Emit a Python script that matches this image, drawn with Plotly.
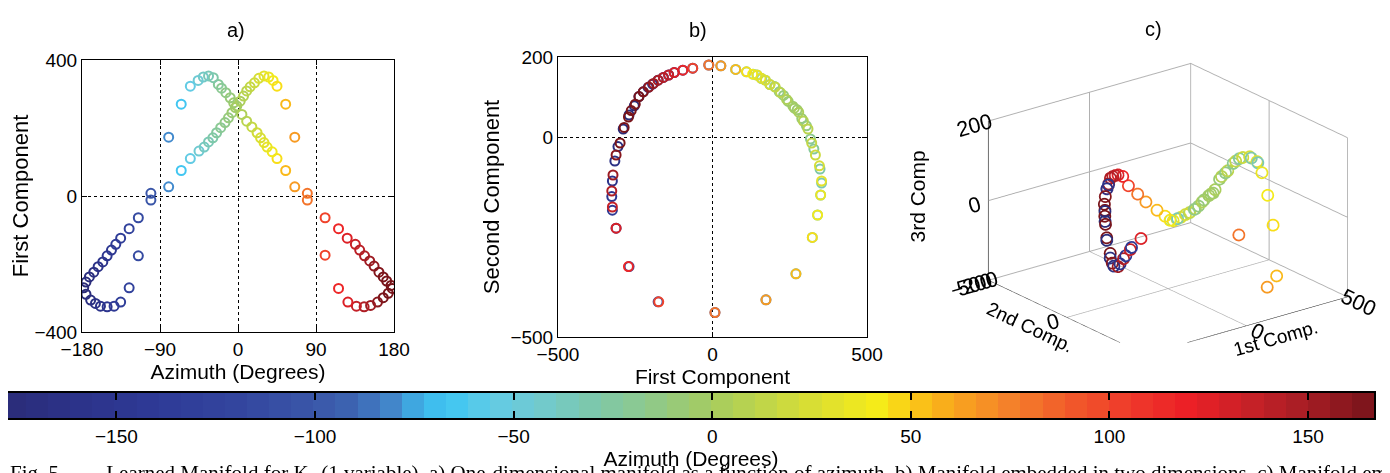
import numpy as np
import plotly.graph_objects as go

# ---------------- data ----------------
# azimuth (deg), first, second, third manifold component
AZ = [-100.5, -115, -125.6, -135.4, -141, -146, -151, -156, -161.4, -166.4, -171.5, -175.4, -178,
      -175.4, -170, -164.5, -158.7, -151, -143, -135.4, -125.6, -115, -100.5,
      -80, -65.5, -55, -45, -39, -34, -29, -24.7, -20, -15, -11, -7, -3,
      -1.4, -5, -9, -14, -19, -22.7, -28.5, -34, -40, -46, -55, -65.5, -80,
      80, 100.5, 116, 126, 135.4, 140.4, 146, 152, 157, 162.6, 167.6, 171.5, 176.6, 178,
      173.4, 167.6, 161, 153, 145.5, 136.6, 126.8, 116, 100.5, 80,
      65.5, 55, 45, 39.4, 33.6, 30, 26, 22, 16, 10, 4.5,
      2.5, 6.4, 10, 14, 19, 24, 30, 35.5, 40.5, 45, 55, 65.5]
V1 = [-12, -64, -96, -124, -142, -159, -176, -194, -208, -224, -238, -253, -270,
      -289, -306, -316, -324, -326, -324, -312, -270, -176, 8,
      27, 75, 110, 132, 144, 159, 171, 186, 201, 216, 230, 245, 260,
      265, 274, 289, 304, 317, 328, 348, 353, 350, 340, 323, 270, 173,
      -12, -64, -96, -124, -142, -159, -176, -191, -206, -224, -238, -250, -263, -272,
      -286, -299, -312, -322, -326, -324, -312, -272, -174, 8,
      27, 75, 110, 130, 144, 157, 171, 186, 203, 220, 240,
      279, 294, 309, 321, 333, 346, 353, 350, 340, 323, 270, 173]
V2 = [180, 172, 167, 161, 155, 149, 142, 132, 124, 113, 101, 78, 55,
      20, -24, -60, -110, -149, -183, -228, -324, -412, -439,
      178, 169, 163, 157, 155, 146, 142, 131, 126, 113, 104, 89, 77,
      72, 68, 46, 28, -5, -30, -80, -115, -145, -195, -251, -342, -407,
      180, 172, 167, 161, 155, 149, 142, 134, 125, 113, 101, 82, 66, 50,
      24, -15, -45, -95, -135, -175, -228, -324, -412, -439,
      178, 169, 163, 157, 155, 147, 142, 131, 125, 111, 94,
      62, 40, 20, -15, -45, -72, -110, -145, -195, -251, -342, -407]
V3 = [6, 36, 65, 74, 76, 77, 77, 64, 58, 43, 28, 16, -2,
      -40, -74, -86, -70, -42, -15, 14, 122, 181, 16,
      -19, -45, -64, -76, -79, -74, -72, -65, -62, -53, -45, -29, -18,
      -14, -12, 25, 42, 70, 85, 93, 87, 68, 22, -40, -143, -145,
      6, 36, 65, 74, 76, 77, 77, 66, 58, 43, 28, 18, 8, -8,
      -35, -65, -82, -80, -52, -22, 14, 122, 181, 16,
      -19, -45, -64, -76, -79, -75, -72, -65, -61, -52, -34,
      -3, 32, 48, 77, 90, 95, 89, 68, 22, -40, -143, -145]

A_XTICKS = [-180, -90, 0, 90, 180]
A_YTICKS = [-400, 0, 400]
B_XTICKS = [-500, 0, 500]
B_YTICKS = [-500, 0, 200]
C_TICKS12 = [-500, 0, 500]
C_TICKS3 = [-200, 0, 200]
CB_TICKS = [-150, -100, -50, 0, 50, 100, 150]
CB_MIN, CB_MAX, CB_BANDS = -178.3, 166.6, 62

CAPTION = ("Fig. 5.\u2003\u2003Learned Manifold for K\u2082 (1 variable). a) One-dimensional manifold as a "
           "function of azimuth. b) Manifold embedded in two dimensions. c) Manifold embedded in three dimensions.")

# ---------------- style ----------------
OFF = 8                      # page body margin of the browser
W, H = 1390 - OFF, 473 - OFF
FONT = "Liberation Sans, Arial, sans-serif"
CS = [[0.000, "#2b2c78"], [0.052, "#2c3289"], [0.110, "#2e3a96"], [0.168, "#33459e"],
      [0.226, "#3a56a8"], [0.255, "#3d65b2"], [0.284, "#4288cc"], [0.307, "#3db9ec"],
      [0.328, "#42c7f1"], [0.357, "#62cbe4"], [0.386, "#6fcad3"], [0.429, "#7dc8ac"],
      [0.472, "#8fc98a"], [0.516, "#a5cc60"], [0.559, "#c3d746"], [0.603, "#e2e22c"],
      [0.638, "#f6eb18"], [0.661, "#fbcb16"], [0.690, "#f9a91c"], [0.733, "#f4822a"],
      [0.777, "#f15a2a"], [0.820, "#ef3b2b"], [0.864, "#ec1f26"], [0.907, "#c92127"],
      [0.951, "#a51d24"], [1.000, "#78141a"]]


def fx(p):
    return min(1.0, max(0.0, (p - OFF) / W))


def fy(p):
    return min(1.0, max(0.0, 1 - (p - OFF) / H))


fig = go.Figure()

mk = dict(symbol="circle-open", size=9, color=AZ, colorscale=CS, cmin=CB_MIN, cmax=CB_MAX,
          line=dict(width=2))

fig.add_trace(go.Scatter(x=AZ, y=V1, mode="markers", marker=mk, xaxis="x", yaxis="y",
                         showlegend=False, hoverinfo="skip"))
fig.add_trace(go.Scatter(x=V1, y=V2, mode="markers", marker=mk, xaxis="x2", yaxis="y2",
                         showlegend=False, hoverinfo="skip"))

edges = np.linspace(CB_MIN, CB_MAX, CB_BANDS + 1)
centers = (edges[:-1] + edges[1:]) / 2
fig.add_trace(go.Heatmap(x=edges, y=[0, 1], z=[centers], colorscale=CS, zmin=CB_MIN, zmax=CB_MAX,
                         showscale=False, xaxis="x3", yaxis="y3", hoverinfo="skip"))

fig.add_trace(go.Scatter3d(x=V1, y=V2, z=V3, mode="markers", scene="scene", showlegend=False,
                           marker=dict(symbol="circle-open", size=7, color=AZ, colorscale=CS,
                                       cmin=CB_MIN, cmax=CB_MAX, opacity=1,
                                       line=dict(width=2.5, color=AZ, colorscale=CS,
                                                 cmin=CB_MIN, cmax=CB_MAX)),
                           hoverinfo="skip"))

ax_common = dict(showline=True, linecolor="black", linewidth=1, mirror="ticks", ticks="inside",
                 ticklen=5, tickcolor="black", zeroline=False, showgrid=True, gridcolor="black",
                 griddash="dot", gridwidth=1, automargin=False,
                 tickfont=dict(size=19, family=FONT, color="black"))

ax3d = dict(showbackground=False, gridcolor="#b0b0b0", showline=True, linecolor="black",
            zeroline=False, tickfont=dict(size=16, color="black"), showspikes=False)

# colorbar axis: left edge of the page is at 8 px, the bar starts at 4 px in the reference
cb_left = CB_MIN + (OFF - 4) / 3.97

fig.update_layout(
    width=W, height=H, margin=dict(l=0, r=0, t=0, b=0, autoexpand=False),
    paper_bgcolor="white", plot_bgcolor="white",
    font=dict(family=FONT, color="black"),
    xaxis=dict(domain=[fx(82), fx(394)], range=[-180, 180], tickvals=A_XTICKS, anchor="y",
               title=dict(text="Azimuth (Degrees)", font=dict(size=21), standoff=2), **ax_common),
    yaxis=dict(domain=[fy(332), fy(60)], range=[-400, 400], tickvals=A_YTICKS, anchor="x",
               title=dict(text="First Component", font=dict(size=22), standoff=4), **ax_common),
    xaxis2=dict(domain=[fx(558), fx(867)], range=[-500, 500], tickvals=B_XTICKS, anchor="y2",
                title=dict(text="First Component", font=dict(size=21), standoff=2), **ax_common),
    yaxis2=dict(domain=[fy(337), fy(57)], range=[-500, 200], tickvals=B_YTICKS, anchor="x2",
                title=dict(text="Second Component", font=dict(size=22), standoff=4), **ax_common),
    xaxis3=dict(domain=[fx(8), fx(1374)], range=[cb_left, CB_MAX], tickvals=CB_TICKS, anchor="y3",
                showline=True, linecolor="black", linewidth=1.5, mirror="ticks", ticks="inside",
                ticklen=7, tickwidth=1.5, tickcolor="black", showgrid=False, zeroline=False,
                automargin=False, tickfont=dict(size=19, family=FONT, color="black"),
                title=dict(text="Azimuth (Degrees)", font=dict(size=21), standoff=2)),
    yaxis3=dict(domain=[fy(418), fy(393)], range=[0, 1], showticklabels=False, ticks="", anchor="x3",
                showline=True, linecolor="black", linewidth=1.5, mirror=True, showgrid=False,
                zeroline=False, automargin=False),
    scene=dict(
        domain=dict(x=[fx(948), fx(1388)], y=[fy(369), fy(49)]),
        xaxis=dict(title=dict(text="1st Comp.", font=dict(size=19)), range=[-500, 500],
                   tickvals=C_TICKS12, **ax3d),
        yaxis=dict(title=dict(text="2nd Comp.", font=dict(size=19)), range=[-500, 500],
                   tickvals=C_TICKS12, **ax3d),
        zaxis=dict(title=dict(text=""), range=[-200, 200],
                   tickvals=C_TICKS3, **ax3d),
        aspectmode="manual", aspectratio=dict(x=1.6, y=1.6, z=1.07),
        camera=dict(projection=dict(type="orthographic"),
                    eye=dict(x=-0.38, y=-0.49, z=0.245), up=dict(x=0, y=0, z=1),
                    center=dict(x=0, y=0, z=0)),
    ),
    annotations=[
        dict(text="a)", x=fx(225), y=fy(17), xref="paper", yref="paper", showarrow=False,
             font=dict(size=20)),
        dict(text="b)", x=fx(698), y=fy(17), xref="paper", yref="paper", showarrow=False,
             font=dict(size=20)),
        dict(text="c)", x=fx(1164), y=fy(16), xref="paper", yref="paper", showarrow=False,
             font=dict(size=20)),
        dict(text="3rd Comp", x=fx(930), y=fy(197), xref="paper", yref="paper", showarrow=False,
             textangle=-90, font=dict(size=21)),
        dict(text=CAPTION, x=fx(8), y=fy(459), xref="paper", yref="paper", showarrow=False,
             xanchor="left", yanchor="top",
             font=dict(size=21, family="Liberation Serif, Times New Roman, serif")),
    ],
)

fig.write_html("out.html")
